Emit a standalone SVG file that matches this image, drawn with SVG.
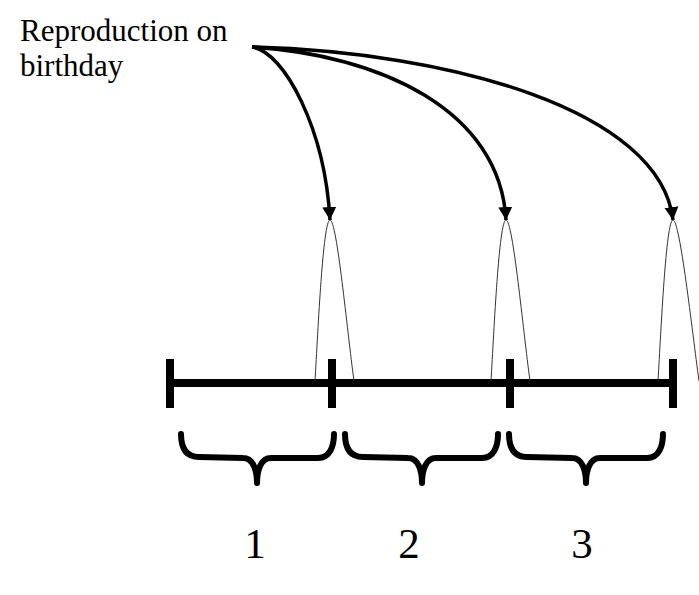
<svg xmlns="http://www.w3.org/2000/svg" width="699" height="595" viewBox="0 0 699 595">
<style>
.lbl{font-family:"Liberation Serif","Times New Roman",serif;fill:#000}
.arrow{fill:none;stroke:#000;stroke-width:3.5}
.peak{fill:none;stroke:#333;stroke-width:1}
.axis{stroke:#000;stroke-width:8;fill:none}
.brace{fill:none;stroke:#000;stroke-width:6;stroke-linecap:round;stroke-linejoin:round}
</style>
<defs>
<marker id="ah" markerUnits="userSpaceOnUse" markerWidth="16" markerHeight="16" refX="13" refY="7" orient="auto">
<path d="M0,0 L13,7 L0,14 Z" fill="#000"/>
</marker>
</defs>
<rect width="699" height="595" fill="#fff"/>
<g id="label-reproduction">
<text class="lbl" x="20" y="41" font-size="31">Reproduction on</text>
<text class="lbl" x="20" y="76" font-size="31">birthday</text>
</g>
<g id="timeline">
<line class="axis" x1="170" y1="383" x2="673" y2="383"/>
<line class="axis" x1="170" y1="359" x2="170" y2="408"/>
<line class="axis" x1="332" y1="359" x2="332" y2="408"/>
<line class="axis" x1="510" y1="359" x2="510" y2="408"/>
<line class="axis" x1="673" y1="359" x2="673" y2="408"/>
</g>
<g id="peaks">
<path class="peak" d="M315,381 C318,330 323,220 330,220 C337,220 347,330 354,381"/>
<path class="peak" d="M491,381 C494,330 499,220 506,220 C513,220 523,330 530,381"/>
<path class="peak" d="M658,381 C661,330 666,220 673,220 C680,220 692,330 699,381"/>
</g>
<g id="connectors">
<path class="arrow" marker-end="url(#ah)" d="M252,47 C285,52 325,130 330,220"/>
<path class="arrow" marker-end="url(#ah)" d="M252,47 C380,55 500,110 506,220"/>
<path class="arrow" marker-end="url(#ah)" d="M252,47 C450,52 660,110 673,220"/>
</g>
<g id="brace-1">
<path class="brace" d="M181,434 C181,448 186,457 199,457 L243,458 C253,458 257,470 257,483 M257,483 C257,470 261,458 271,458 L318,458 C330,458 334,446 334,434"/>
</g>
<g id="brace-2">
<path class="brace" d="M345,434 C345,448 350,457 363,457 L408,458 C418,458 422,470 422,483 M422,483 C422,470 426,458 436,458 L482,458 C494,458 498,446 498,434"/>
</g>
<g id="brace-3">
<path class="brace" d="M509,434 C509,448 514,457 527,457 L572,458 C582,458 586,470 586,483 M586,483 C586,470 590,458 600,458 L647,458 C659,458 663,446 663,434"/>
</g>
<g id="num-labels">
<text class="lbl" x="255" y="558" font-size="43" text-anchor="middle">1</text>
<text class="lbl" x="409" y="558" font-size="43" text-anchor="middle">2</text>
<text class="lbl" x="582" y="558" font-size="43" text-anchor="middle">3</text>
</g>
</svg>
